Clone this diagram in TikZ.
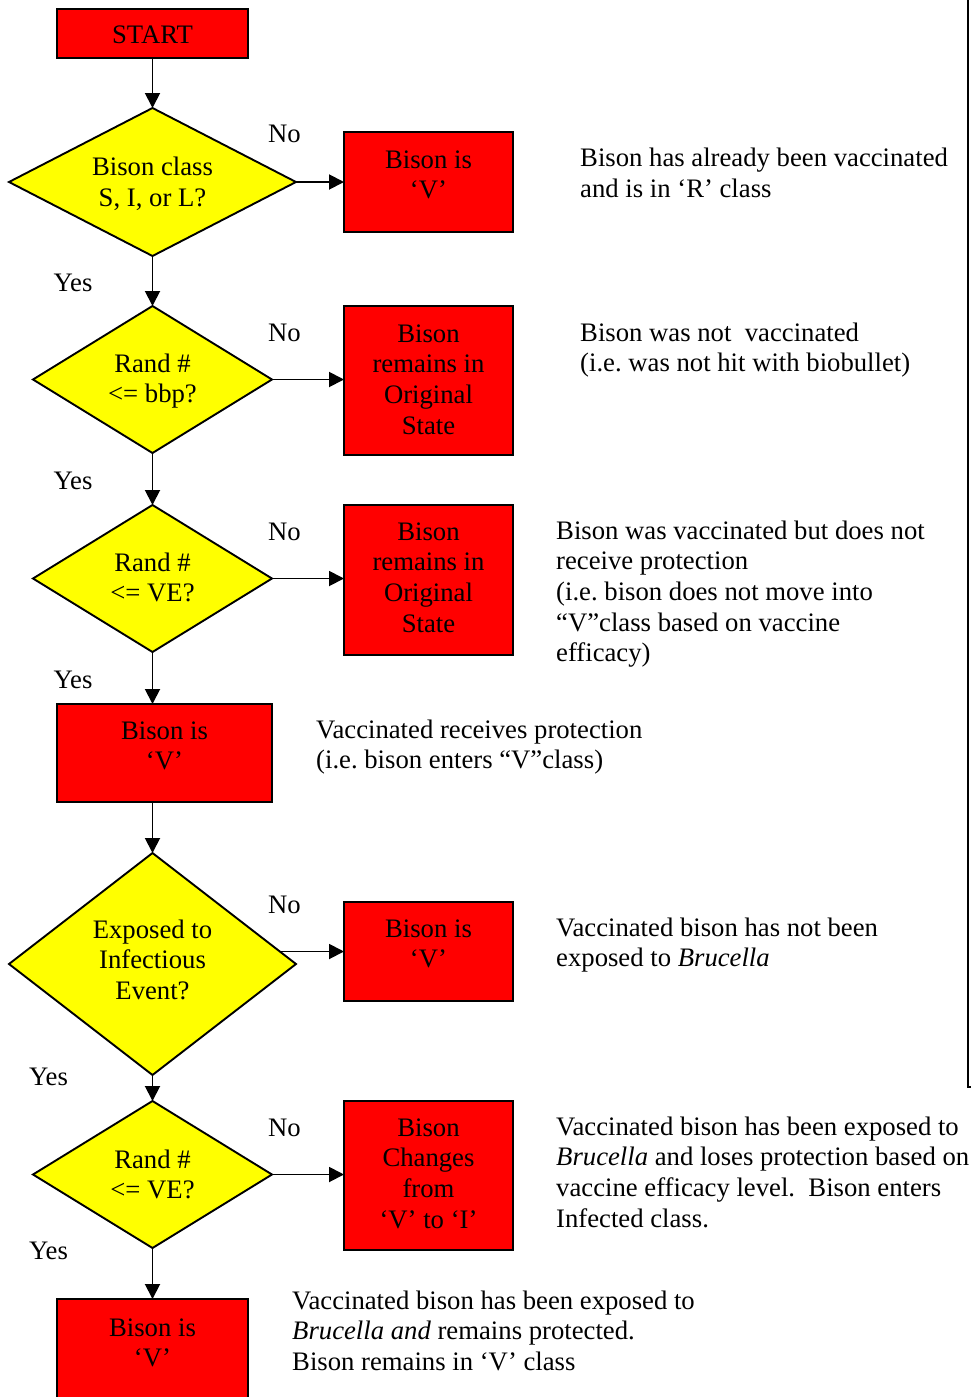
\documentclass[tikz,border=0pt]{standalone}
\usepackage{fontspec}
\setmainfont{Liberation Serif}
\usetikzlibrary{shapes.geometric,arrows.meta,calc}
\newcommand\mlines[2][l]{\begin{tabular}[t]{@{}#1@{}}#2\end{tabular}}
\definecolor{boxred}{HTML}{FF0000}
\definecolor{diayellow}{HTML}{FFFF00}
\frenchspacing
\begin{document}
\begin{tikzpicture}[x=1pt,y=-1pt,
  font=\fontsize{26.7}{30.7}\selectfont,
  redbox/.style={draw=black,fill=boxred,line width=1.9pt,rectangle,inner sep=0pt,outer sep=0pt,anchor=north west},
  decision/.style={draw=black,fill=diayellow,line width=1.9pt,diamond,inner sep=0pt,outer sep=0pt},
  lbl/.style={inner sep=0pt,anchor=base},
  note/.style={inner sep=0pt,anchor=base west},
  arrow/.style={line width=1.9pt,-{Triangle[length=15pt,width=15pt]}}]
\clip (0,0) rectangle (971,1397);
\fill[white] (0,0) rectangle (971,1397);

% nodes
\node[redbox,minimum width=191pt,minimum height=49pt] (start) at (57,9) {};
\node[lbl] at (152.5,44) {START};

\node[decision,minimum width=287pt,minimum height=148pt] (d1) at (152.5,182) {};
\node[lbl] at (152.5,175.5) {\mlines[c]{Bison class\\S, I, or L?}};
\node[redbox,minimum width=169pt,minimum height=100pt] (b1) at (344,132) {};
\node[lbl] at (428.5,168) {\mlines[c]{Bison is\\‘V’}};

\node[decision,minimum width=239pt,minimum height=147pt] (d2) at (152.5,379.5) {};
\node[lbl] at (152.5,372) {\mlines[c]{Rand \#\\<= bbp?}};
\node[redbox,minimum width=169pt,minimum height=149pt] (b2) at (344,306) {};
\node[lbl] at (428.5,342) {\mlines[c]{Bison\\remains in\\Original\\State}};

\node[decision,minimum width=239pt,minimum height=147pt] (d3) at (152.5,578.5) {};
\node[lbl] at (152.5,571) {\mlines[c]{Rand \#\\<= VE?}};
\node[redbox,minimum width=169pt,minimum height=150pt] (b3) at (344,505) {};
\node[lbl] at (428.5,540) {\mlines[c]{Bison\\remains in\\Original\\State}};

\node[redbox,minimum width=215pt,minimum height=98pt] (bv) at (57,704) {};
\node[lbl] at (164.5,739) {\mlines[c]{Bison is\\‘V’}};

\node[decision,minimum width=287pt,minimum height=222pt] (d4) at (152.5,964) {};
\node[lbl] at (152.5,938) {\mlines[c]{Exposed to\\Infectious\\Event?}};
\node[redbox,minimum width=169pt,minimum height=99pt] (b4) at (344,902) {};
\node[lbl] at (428.5,937) {\mlines[c]{Bison is\\‘V’}};
\coordinate (d4e) at (279,951.5);

\node[decision,minimum width=239pt,minimum height=147pt] (d5) at (152.5,1174.5) {};
\node[lbl] at (152.5,1168) {\mlines[c]{Rand \#\\<= VE?}};
\node[redbox,minimum width=169pt,minimum height=149pt] (b5) at (344,1101) {};
\node[lbl] at (428.5,1136) {\mlines[c]{Bison\\Changes\\from\\‘V’ to ‘I’}};

\node[redbox,minimum width=191pt,minimum height=110pt] (bend) at (57,1299) {};
\node[lbl] at (152.5,1336) {\mlines[c]{Bison is\\‘V’}};

% yes / no labels
\node[lbl] (no1) at (284.5,142) {No};
\node[lbl] (no2) at (284.5,341) {No};
\node[lbl] (no3) at (284.5,540) {No};
\node[lbl] (no4) at (284.5,913) {No};
\node[lbl] (no5) at (284.5,1136) {No};
\node[lbl] (yes1) at (73,291) {Yes};
\node[lbl] (yes2) at (73,489) {Yes};
\node[lbl] (yes3) at (73,688) {Yes};
\node[lbl] (yes4) at (48.5,1085) {Yes};
\node[lbl] (yes5) at (48.5,1259) {Yes};

% notes
\node[note] (n1) at (580,166.5) {\mlines{Bison has already been vaccinated\\and is in ‘R’ class}};
\node[note] (n2) at (580,341) {\mlines{Bison was not\ \ vaccinated\\(i.e. was not hit with biobullet)}};
\node[note] (n3) at (556,539) {\mlines{Bison was vaccinated but does not\\receive protection\\(i.e. bison does not move into\\“V”class based on vaccine\\efficacy)}};
\node[note] (n4) at (316,738) {\mlines{Vaccinated receives protection\\(i.e. bison enters “V”class)}};
\node[note] (n5) at (556,936) {\mlines{Vaccinated bison has not been\\exposed to \textit{Brucella}}};
\node[note] (n6) at (556,1135) {\mlines{Vaccinated bison has been exposed to\\\textit{Brucella} and loses protection based on\\vaccine efficacy level.\ \ Bison enters\\Infected class.}};
\node[note] (n7) at (292,1309) {\mlines{Vaccinated bison has been exposed to\\\textit{Brucella and} remains protected.\\Bison remains in ‘V’ class}};

% connectors
\draw[arrow] (start.south) -- (d1.north);
\draw[arrow] (d1.south) -- (d2.north);
\draw[arrow] (d2.south) -- (d3.north);
\draw[arrow] (d3.south) -- (d3.south |- bv.north);
\draw[arrow] (d3.south |- bv.south) -- (d4.north);
\draw[arrow] (d4.south) -- (d5.north);
\draw[arrow] (d5.south) -- (d5.south |- bend.north);
\draw[arrow] (d1.east) -- (b1.west);
\draw[arrow] (d2.east) -- (d2.east -| b2.west);
\draw[arrow] (d3.east) -- (d3.east -| b3.west);
\draw[arrow] (d4e) -- (d4e -| b4.west);
\draw[arrow] (d5.east) -- (d5.east -| b5.west);

% right margin rule
\draw[line width=1.4pt] (968,0) -- (968,1087) -- (971,1087);
\end{tikzpicture}
\end{document}
